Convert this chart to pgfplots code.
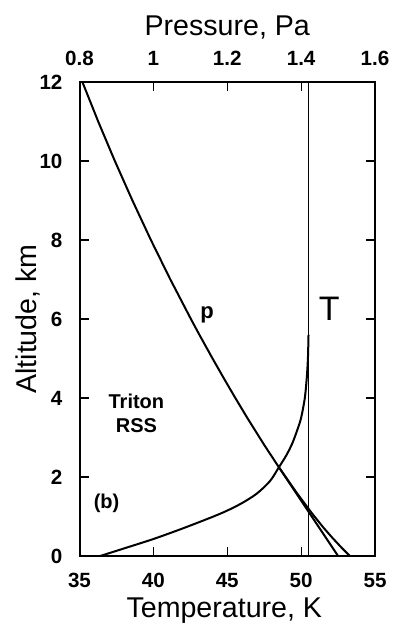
\documentclass[border=0pt]{standalone}
\usepackage{fontspec}
\setmainfont{Liberation Sans}
\usepackage{pgfplots}
\pgfplotsset{compat=1.18}
\begin{document}
\begin{tikzpicture}
\pgfplotsset{
  common/.style={
    at={(0pt,0pt)}, anchor=south west, scale only axis,
    width=147.75pt, height=237pt,
    ymin=0, ymax=12,
    tick align=inside,
    major tick length=4.5pt,
    major tick style={line width=0.6pt, black},
    axis line style={line width=1pt},
    /pgf/number format/assume math mode=true,
    tick label style={font=\fontsize{10.3}{12}\selectfont\bfseries},
    label style={font=\fontsize{14.3}{17}\selectfont},
  }
}
% Temperature axis (bottom) with altitude on the left
\begin{axis}[common,
  xmin=35, xmax=55,
  xtick={35,40,45,50,55},
  ytick={0,2,4,6,8,10,12},
  xtick pos=bottom,
  ytick pos=both, yticklabel pos=left,
  xticklabel style={yshift=-5pt},
  yticklabel style={xshift=-5pt},
  xlabel={Temperature, K},
  ylabel={Altitude, km},
  xlabel style={at={(axis description cs:0.49,-0.129)}, anchor=base},
  ylabel style={at={(axis description cs:-0.174,0.5)}, anchor=center},
]
\addplot[black, line width=1pt, smooth, tension=0.5] coordinates {
(36.4,0) (38,0.19) (40,0.43) (42,0.70) (44,0.99) (45,1.15) (46,1.34)
(47,1.58) (47.9,1.9) (48.5,2.25) (49,2.55) (49.4,2.85) (49.75,3.2) (50.0,3.5)
(50.25,4.0) (50.38,4.5) (50.46,5.0) (50.5,5.6)
};
\addplot[black, line width=0.9pt] coordinates {(50.5,0) (50.5,12)};
\node[font=\fontsize{10}{12}\selectfont\bfseries, align=center] at (axis cs:38.85,3.6) {Triton\\RSS};
\node[font=\fontsize{10}{12}\selectfont\bfseries] at (axis cs:36.83,1.34) {(b)};
\node[font=\fontsize{11}{12}\selectfont\bfseries, anchor=base] at (axis cs:43.63,6.0) {p};
\node[font=\fontsize{17}{19}\selectfont, anchor=base] at (axis cs:51.9,5.97) {T};
\end{axis}
% Pressure axis (top)
\begin{axis}[common,
  xmin=0.8, xmax=1.6,
  axis x line*=top, axis y line=none,
  tick align=inside,
  xtick={0.8,1,1.2,1.4,1.6},
  xticklabels={0.8,1,1.2,1.4,1.6},
  xticklabel style={yshift=4.5pt},
  xlabel={Pressure, Pa},
  xlabel style={at={(axis description cs:0.5,1.099)}, anchor=base},
]
\addplot[black, line width=1pt] coordinates {
(1.532,0) (1.5106,0.2) (1.4847,0.46) (1.4603,0.72) (1.4294,1.08) (1.388,1.6)
(1.3396,2.25) (1.3009,2.8) (1.254,3.5) (1.2219,4.0) (1.1931,4.46) (1.1602,5.0)
(1.1246,5.6) (1.1016,6.0) (1.046,7) (0.9933,8) (0.9433,9) (0.8957,10)
(0.8506,11) (0.8078,12)
};
\addplot[black, line width=1pt] coordinates {(1.50,0) (1.3396,2.25)};
\end{axis}
\pgfresetboundingbox
\path[use as bounding box] (-39.75pt,-34pt) rectangle (159.25pt,278pt);
\end{tikzpicture}
\end{document}
